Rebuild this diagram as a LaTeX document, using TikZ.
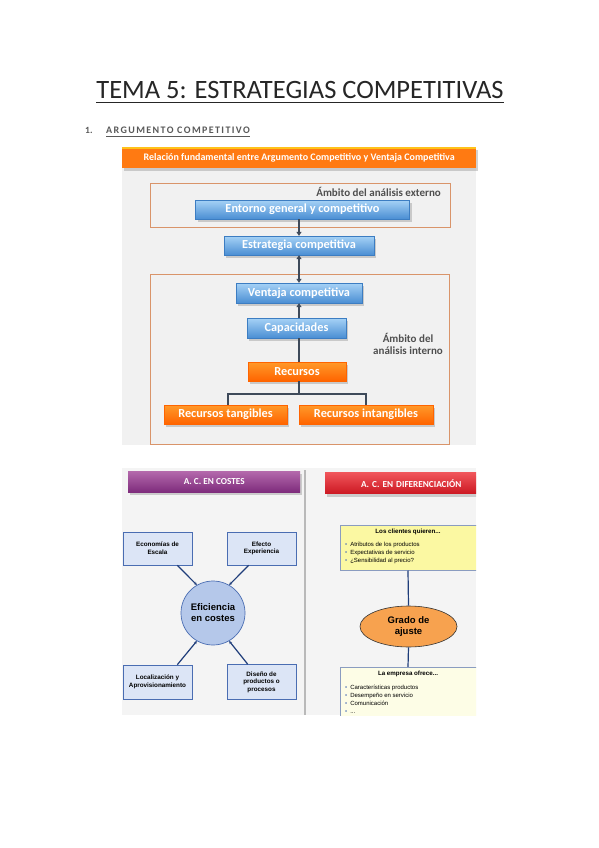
\documentclass[tikz,border=0pt]{standalone}
\usepackage{fontspec}
\setmainfont{Carlito}
\newfontfamily\arialf{Liberation Sans}
\usetikzlibrary{shadows,arrows.meta,calc,shapes.geometric}
\definecolor{titlec}{HTML}{262626}
\definecolor{secc}{HTML}{595959}
\definecolor{bgup}{HTML}{F1F1F1}
\definecolor{bglow}{HTML}{F4F4F4}
\definecolor{framec}{HTML}{D9946A}
\definecolor{bluetop}{HTML}{A6D2F6}
\definecolor{bluebot}{HTML}{4A8ED3}
\definecolor{bluebd}{HTML}{3C7DC2}
\definecolor{orgtop}{HTML}{FF9A2A}
\definecolor{orgbot}{HTML}{FF6400}
\definecolor{hdrorg}{HTML}{FF7A12}
\definecolor{hdryel}{HTML}{FFC21A}
\definecolor{linec}{HTML}{3E4A5A}
\definecolor{ambc}{HTML}{4F4F4F}
\definecolor{purtop}{HTML}{B469AC}
\definecolor{purbot}{HTML}{7E2C7C}
\definecolor{redtop}{HTML}{F0555A}
\definecolor{redbot}{HTML}{CC1822}
\definecolor{lbfill}{HTML}{DCE5F6}
\definecolor{lbdraw}{HTML}{4A6DB2}
\definecolor{circfill}{HTML}{B5C8EA}
\definecolor{navy}{HTML}{1F3D7A}
\definecolor{yelfill}{HTML}{FBF8A2}
\definecolor{creamfill}{HTML}{FDFDE6}
\definecolor{ellfill}{HTML}{F7A24F}
\definecolor{boxbd}{HTML}{8A9CC0}
\begin{document}
\begin{tikzpicture}[x=1pt,y=-1pt,
  bluebox/.style={draw=bluebd, line width=0.4pt, top color=bluetop, bottom color=bluebot,
    text=white, font=\bfseries\fontsize{12.3}{13}\selectfont, inner sep=0pt,
    drop shadow={shadow xshift=2pt,shadow yshift=-3pt,opacity=0.35}},
  orgbox/.style={draw=orgbot, line width=0.4pt, top color=orgtop, bottom color=orgbot,
    text=white, font=\bfseries\fontsize{12.3}{13}\selectfont, inner sep=0pt,
    drop shadow={shadow xshift=2pt,shadow yshift=-3pt,opacity=0.35}},
  frame/.style={draw=framec, line width=0.8pt},
  conn/.style={draw=linec, line width=1.6pt},
  tip/.style={-{Triangle[length=4pt,width=5pt]}},
  lbox/.style={draw=lbdraw, fill=lbfill, line width=0.6pt, inner sep=0pt,
    font=\arialf\bfseries\fontsize{6.3}{7.6}\selectfont, align=center, text=black},
  spoke/.style={draw=navy, line width=1.2pt, -{Stealth[length=3pt,width=3pt]}},
  hdr/.style={inner sep=0pt, text=white, font=\bfseries\fontsize{9.2}{10}\selectfont,
    drop shadow={shadow xshift=2pt,shadow yshift=-3pt,opacity=0.35}},
  bul/.style={font=\arialf\fontsize{6}{8}\selectfont, align=left, inner sep=0pt, text=black}
]
\useasboundingbox (0,0) rectangle (599,848);
\fill[white] (0,0) rectangle (599,848);

% Title
\node[inner sep=0pt, anchor=base, text=titlec, font=\fontsize{26.5}{30}\selectfont] (title) at (300,99) {TEMA 5: ESTRATEGIAS COMPETITIVAS};
\draw[titlec, line width=0.9pt] ($(title.base west)+(0,3)$) -- ($(title.base east)+(0,3)$);

% Section heading
\node[inner sep=0pt, anchor=base west, text=secc, font=\bfseries\fontsize{9.5}{10}\selectfont] (num) at (85,134) {1.};
\node[inner sep=0pt, anchor=base west, text=secc, font=\bfseries\fontsize{10}{10}\selectfont] (sec) at (106,134) {\addfontfeatures{LetterSpace=14}ARGUMENTO COMPETITIVO};
\draw[secc, line width=0.6pt] ($(sec.base west)+(0,2.5)$) -- ($(sec.base east)+(0,2.5)$);

% ===== Upper diagram =====
\fill[bgup] (122,147) rectangle (476,445);
\node[hdr, anchor=north west, minimum width=354pt, minimum height=21pt, fill=hdrorg, font=\bfseries\fontsize{10}{11}\selectfont] (hbar) at (122,147) {Relación fundamental entre Argumento Competitivo y Ventaja Competitiva};
\fill[hdryel] (hbar.north west) rectangle ($(hbar.north east)+(0,2)$);

\draw[frame] (150,183) rectangle (450,227);
\draw[frame] (150,274) rectangle (449,444);
\node[inner sep=0pt, anchor=east, text=ambc, font=\bfseries\fontsize{11}{12}\selectfont] (ext) at (441,192) {Ámbito del análisis externo};
\node[inner sep=0pt, text=ambc, align=center, font=\bfseries\fontsize{11}{12.5}\selectfont] (int) at (408,344) {Ámbito del\\análisis interno};

\node[bluebox, minimum width=214pt, minimum height=19pt] (ent) at (302.5,209.5) {Entorno general y competitivo};
\node[bluebox, minimum width=150pt, minimum height=19pt] (est) at (299,245.5) {Estrategia competitiva};
\node[bluebox, minimum width=126pt, minimum height=20pt] (ven) at (299,293) {Ventaja competitiva};
\node[bluebox, minimum width=99pt, minimum height=20pt] (cap) at (296.5,328) {Capacidades};
\node[orgbox, minimum width=98pt, minimum height=19pt] (rec) at (297,371.5) {Recursos};
\node[orgbox, minimum width=123pt, minimum height=19pt] (rt) at (225.5,414.5) {Recursos tangibles};
\node[orgbox, minimum width=134pt, minimum height=19pt] (ri) at (366,414.5) {Recursos intangibles};

\draw[conn, tip] (ent.south -| est.north) -- (est.north);
\draw[conn, {Triangle[length=4pt,width=5pt]}-{Triangle[length=4pt,width=5pt]}] (est.south) -- (ven.north);
\draw[conn, tip] (cap.north -| ven.south) -- (ven.south);
\coordinate (j) at (299,394);
\coordinate (jl) at (228,394);
\coordinate (jr) at (366,394);
\draw[conn] (cap.south -| j) -- (rec.north -| j);
\draw[conn] (rec.south -| j) -- (j);
\draw[conn] (rt.north -| jl) -- (jl) -- (jr) -- (ri.north -| jr);

% ===== Lower diagram =====
\fill[bglow] (122,468) rectangle (476,715);
\begin{scope}
\clip (122,468) rectangle (476,715);
\draw[gray!55, line width=1.2pt] (305,470) -- (305,715);

\node[hdr, anchor=north west, minimum width=172pt, minimum height=21pt, top color=purtop, bottom color=purbot] (hc) at (128,471) {A. C. EN COSTES};
\node[hdr, anchor=north west, minimum width=172pt, minimum height=21pt, top color=redtop, bottom color=redbot, text width=150pt, align=center] (hd) at (325,472.5) {A. C. EN DIFERENCIACIÓN};

% left: cost efficiency
\node[lbox, minimum width=69pt, minimum height=33pt] (eco) at (157.5,548.5) {Economías de\\Escala};
\node[lbox, minimum width=69pt, minimum height=33pt] (eff) at (261.5,548.5) {Efecto\\Experiencia};
\node[lbox, minimum width=69pt, minimum height=34pt] (loc) at (157.5,682) {Localización y\\Aprovisionamiento};
\node[lbox, minimum width=69pt, minimum height=35pt] (dis) at (261.5,682) {Diseño de\\productos o\\procesos};
\node[circle, draw=lbdraw, fill=circfill, line width=0.7pt, minimum size=64pt, inner sep=0pt, align=center,
  font=\arialf\bfseries\fontsize{9.5}{11}\selectfont] (circ) at (213,613) {Eficiencia\\en costes};

\draw[spoke] ([xshift=-15pt]eco.south east) -- (circ.120);
\draw[spoke] ([xshift=22pt]eff.south west) -- (circ.60);
\draw[spoke] ([xshift=-15pt]loc.north east) -- (circ.240);
\draw[spoke] ([xshift=21pt]dis.north west) -- (circ.300);

% right: differentiation
\draw[boxbd, fill=yelfill, line width=0.7pt] (340,525) rectangle (500,570);
\node[inner sep=0pt, font=\arialf\bfseries\fontsize{6.2}{7}\selectfont] (cq) at (408,532) {Los clientes quieren...};
\node[bul, anchor=north west] (cqb) at (345,542) {\textcolor{lbdraw}{\textbullet}\hspace{3pt}Atributos de los productos\\\textcolor{lbdraw}{\textbullet}\hspace{3pt}Expectativas de servicio\\\textcolor{lbdraw}{\textbullet}\hspace{3pt}¿Sensibilidad al precio?};

\node[ellipse, draw=black!80, fill=ellfill, line width=0.6pt, minimum width=97pt, minimum height=41pt, inner sep=0pt,
  align=center, font=\arialf\bfseries\fontsize{9.5}{11}\selectfont] (gr) at (408.5,626.5) {Grado de\\ajuste};
\coordinate (ybot) at (408,570.5);
\coordinate (ctop) at (408,667);
\draw[navy, line width=1.2pt] (ybot) -- (gr.north);
\draw[navy, line width=1.2pt] (gr.south) -- (ctop);

\draw[boxbd, fill=creamfill, line width=0.7pt] (340,667) rectangle (500,730);
\node[inner sep=0pt, font=\arialf\bfseries\fontsize{6.2}{7}\selectfont] (eo) at (408,674) {La empresa ofrece...};
\node[bul, anchor=north west, font=\arialf\fontsize{6}{7.8}\selectfont] (eob) at (345,685) {\textcolor{lbdraw}{\textbullet}\hspace{3pt}Características productos\\\textcolor{lbdraw}{\textbullet}\hspace{3pt}Desempeño en servicio\\\textcolor{lbdraw}{\textbullet}\hspace{3pt}Comunicación\\\textcolor{lbdraw}{\textbullet}\hspace{3pt}...};
\end{scope}
\end{tikzpicture}
\end{document}
